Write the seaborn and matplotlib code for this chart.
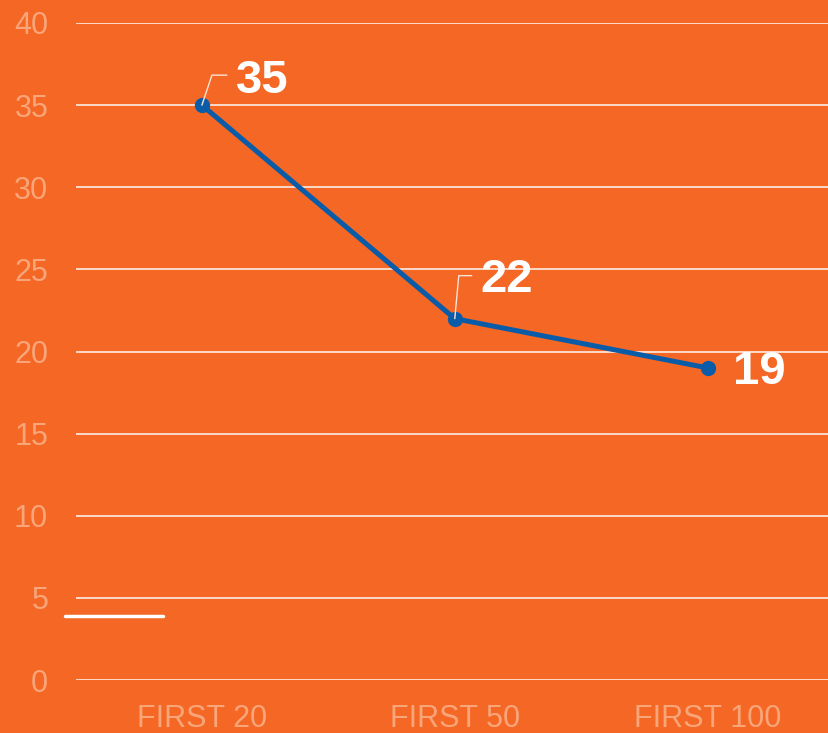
import matplotlib
matplotlib.use("Agg")
import matplotlib.pyplot as plt
import seaborn as sns
import pandas as pd
from matplotlib.lines import Line2D

categories = ["FIRST 20", "FIRST 50", "FIRST 100"]
values = [35, 22, 19]
yticks = [0, 5, 10, 15, 20, 25, 30, 35, 40]

BG = "#F46724"
BLUE = "#0A5CA8"
TICK = "#F9A57A"
GRID = "#FBE3D6"

sns.set_theme(style="white")
plt.rcParams['font.family'] = ['Liberation Sans', 'DejaVu Sans']

fig = plt.figure(figsize=(8.29, 7.33), dpi=100, facecolor=BG)
W, H = 829, 733
ax = fig.add_axes([76 / W, 1 - 680 / H, (829 - 76) / W, (680 - 23) / H])
ax.set_facecolor(BG)

df = pd.DataFrame({"cat": categories, "val": values})
sns.lineplot(data=df, x="cat", y="val", ax=ax, color=BLUE, linewidth=3.6,
             marker="o", markersize=11, markeredgewidth=0, sort=False)

ax.set_ylim(0, 40)
ax.set_xlim(-0.498, 2.48)
ax.set_yticks(yticks)
ax.set_yticklabels([str(t) for t in yticks])
for s in ax.spines.values():
    s.set_visible(False)
ax.grid(axis="y", color=GRID, linewidth=1.3)
ax.set_axisbelow(True)
ax.tick_params(axis="y", length=0, pad=20, labelsize=22, labelcolor=TICK)
ax.tick_params(axis="x", length=0, pad=17, labelsize=22, labelcolor=TICK)
ax.set_xlabel("")
ax.set_ylabel("")

# data labels
offsets = [(34, 24), (26, 39), (25, -4)]  # pixels
leaders = [[(0, 0), (10, 30), (25, 30)], [(0, 0), (4, 43), (17, 43)], None]
inv = fig.transFigure.inverted()
for i, (c, v) in enumerate(zip(categories, values)):
    px, py = ax.transData.transform((i, v))
    dx, dy = offsets[i]
    ax.annotate(str(v), xy=(i, v), xytext=(dx * 0.72, dy * 0.72),
                textcoords="offset points", ha="left", va="center",
                fontsize=34, fontweight="bold", color="white")
    if leaders[i] is not None:
        pts = [inv.transform((px + a, py + b)) for a, b in leaders[i]]
        fig.add_artist(Line2D([p[0] for p in pts], [p[1] for p in pts],
                              color=GRID, linewidth=1.0, zorder=1))

# short white line at left
fig.add_artist(Line2D([65 / W, 163 / W], [1 - 616 / H, 1 - 616 / H],
                      color="white", linewidth=2.5))

fig.savefig("out.png", dpi=100, facecolor=BG)
